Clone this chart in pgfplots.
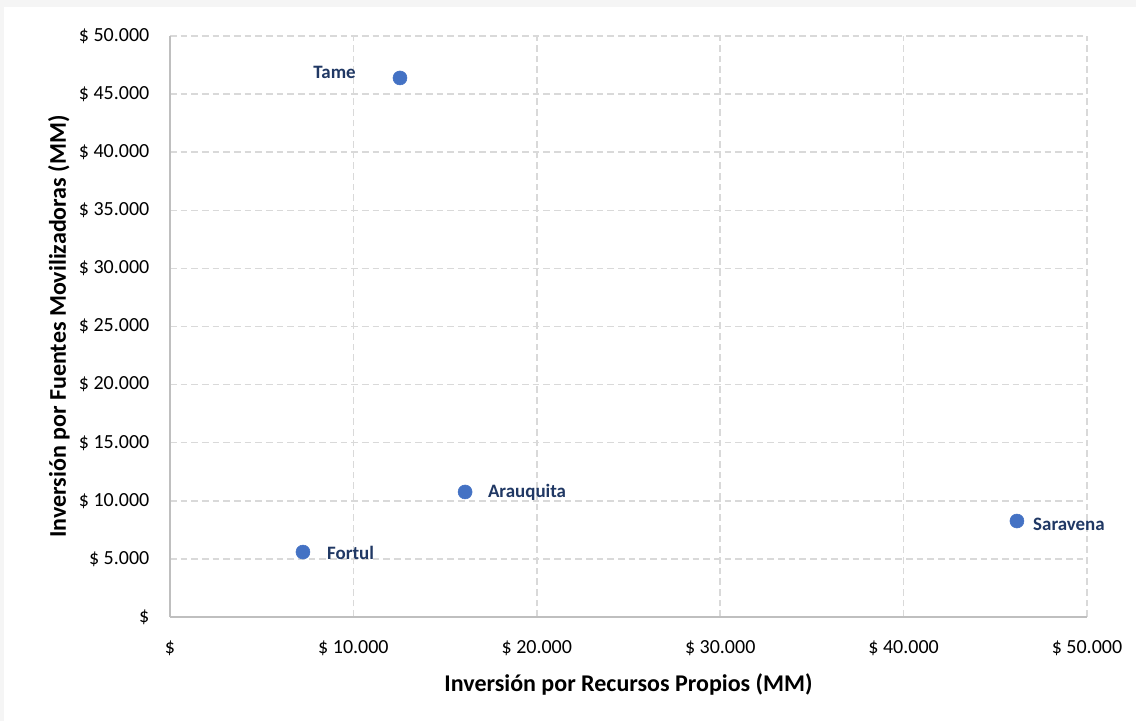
\documentclass[border=0pt]{standalone}
\usepackage{pgfplots}
\pgfplotsset{compat=1.18}
\usepackage{fontspec}
\setmainfont{Carlito}
\definecolor{pt}{HTML}{4472C4}
\definecolor{lbl}{HTML}{203864}
\definecolor{gridc}{HTML}{D9D9D9}
\definecolor{axc}{HTML}{BFBFBF}

\pgfplotsset{
    mun/.style n args={3}{
        only marks, mark=*, mark size=5.25pt,
        mark options={fill=pt, draw=pt},
        point meta=explicit symbolic,
        nodes near coords,
        every node near coord/.style={anchor=#1, inner sep=0pt, xshift=#2, yshift=#3,
            font=\fontsize{14.2}{17}\selectfont\bfseries, text=lbl},
    },
}

\begin{document}
\begin{tikzpicture}
\fill[gray!8] (-127.5pt,-78pt) rectangle (724.5pt,462.75pt);
\fill[white] (-124.5pt,-78pt) rectangle (724.5pt,457.5pt);
\begin{axis}[
    at={(0,0)}, anchor=south west,
    scale only axis,
    width=687.75pt,
    height=435.75pt,
    xmin=0, xmax=50000,
    ymin=0, ymax=50000,
    scaled ticks=false,
    axis x line*=bottom,
    axis y line*=left,
    axis line style={axc, line width=1.1pt},
    major tick length=0pt,
    xtick={0,10000,20000,30000,40000,50000},
    xticklabels={\$, \$ 10.000, \$ 20.000, \$ 30.000, \$ 40.000, \$ 50.000},
    ytick={0,5000,10000,15000,20000,25000,30000,35000,40000,45000,50000},
    yticklabels={\$, \$ 5.000, \$ 10.000, \$ 15.000, \$ 20.000, \$ 25.000, \$ 30.000, \$ 35.000, \$ 40.000, \$ 45.000, \$ 50.000},
    ticklabel style={font=\fontsize{15}{18}\selectfont, text=black},
    xticklabel style={yshift=-14pt},
    yticklabel style={xshift=-12pt},
    grid=major,
    major grid style={gridc, line width=1.1pt, dash pattern=on 5pt off 3pt},
    xlabel={\textbf{Inversión por Recursos Propios (MM)}},
    ylabel={\textbf{Inversión por Fuentes Movilizadoras (MM)}},
    label style={font=\fontsize{18}{21}\selectfont},
    xlabel style={yshift=-7pt},
    ylabel style={yshift=0pt},
    clip=false,
]
% values in millions (MM)
\addplot[mun={east}{-33pt}{4.5pt}] coordinates {(12540,46390) [Tame]};
\addplot[mun={west}{17pt}{-0.5pt}] coordinates {(16090,10760) [Arauquita]};
\addplot[mun={west}{18pt}{-0.5pt}] coordinates {(7250,5590) [Fortul]};
\addplot[mun={west}{12pt}{-2.5pt}] coordinates {(46180,8260) [Saravena]};
\end{axis}
\end{tikzpicture}
\end{document}
